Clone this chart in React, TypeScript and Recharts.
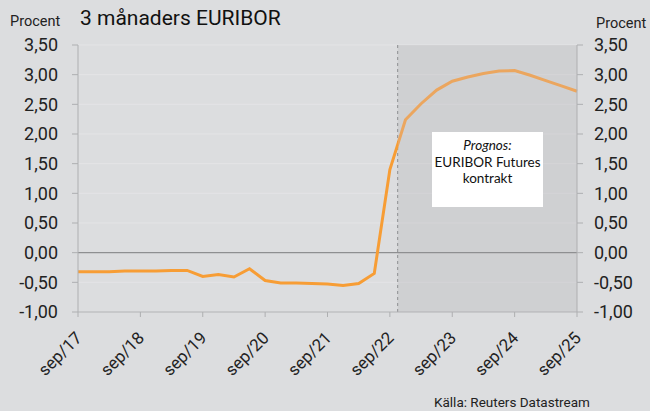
import { LineChart, Line, XAxis, YAxis, CartesianGrid, ReferenceLine, ReferenceArea } from "recharts";

// months since sep 2017, quarterly observations
const months = [0, 3, 6, 9, 12, 15, 18, 21, 24, 27, 30, 33, 36, 39, 42, 45, 48, 51, 54, 57, 60, 63, 66, 69, 72, 75, 78, 81, 84, 87, 90, 93, 96];
const euribor = [
  -0.32, -0.32, -0.32, -0.31, -0.31, -0.31, -0.3, -0.3, -0.4, -0.37, -0.41, -0.27, -0.47, -0.51, -0.51, -0.52,
  -0.53, -0.555, -0.52, -0.35, 1.4, 2.24, 2.51, 2.74, 2.89, 2.96, 3.02, 3.06, 3.07, 2.99, 2.9, 2.81, 2.72,
];
const xTicks = [0, 12, 24, 36, 48, 60, 72, 84, 96];
const xLabels = ["sep/17", "sep/18", "sep/19", "sep/20", "sep/21", "sep/22", "sep/23", "sep/24", "sep/25"];
const yTicks = [-1, -0.5, 0, 0.5, 1, 1.5, 2, 2.5, 3, 3.5];
const forecastStart = 61.5;
const forecastEnd = 96;

const data = months.map((m, i) => ({ m, v: euribor[i] }));

const FONT = "Roboto, 'DejaVu Sans', sans-serif";
const fmt = (v: number) => v.toFixed(2).replace(".", ",");
// where the shaded forecast begins, as a fraction of the line's x-span
const splitAt = `${(forecastStart / forecastEnd) * 100}%`;

function XTick({ x, y, payload }: any) {
  const idx = xTicks.indexOf(payload.value);
  const tx = x + 5;
  const ty = y + 20;
  return (
    <text x={tx} y={ty} textAnchor="end" transform={`rotate(-45 ${tx} ${ty})`} fontSize={17} fill="#222" fontFamily={FONT}>
      {xLabels[idx]}
    </text>
  );
}

export default function App() {
  return (
    <div style={{ position: "absolute", left: 0, top: 0, width: 650, height: 411, background: "#dcdddf", fontFamily: FONT }}>
      <LineChart width={650} height={411} data={data} margin={{ top: 45, right: 0, bottom: 0, left: 0 }}>
        <defs>
          <linearGradient id="lineFade" x1="0" y1="0" x2="1" y2="0">
            <stop offset={splitAt} stopColor="#f79d35" />
            <stop offset={splitAt} stopColor="#eba65f" />
          </linearGradient>
        </defs>
        <CartesianGrid yAxisId="left" vertical={false} stroke="#e4e4e6" />
        <XAxis
          dataKey="m"
          type="number"
          domain={[0, 96]}
          ticks={xTicks}
          height={99}
          tick={<XTick />}
          tickSize={5}
          stroke="#aeafb1"
          interval={0}
        />
        <YAxis
          yAxisId="left"
          domain={[-1, 3.5]}
          ticks={yTicks}
          width={78}
          tickFormatter={fmt}
          tickSize={6}
          tickMargin={14}
          stroke="#aeafb1"
          tick={{ fontSize: 18, fill: "#222", fontFamily: FONT }}
          interval={0}
        />
        <YAxis
          yAxisId="right"
          orientation="right"
          domain={[-1, 3.5]}
          ticks={yTicks}
          width={73}
          tickFormatter={fmt}
          tickSize={6}
          tickMargin={11}
          stroke="#aeafb1"
          tick={{ fontSize: 18, fill: "#222", fontFamily: FONT }}
          interval={0}
        />
        <ReferenceArea
          yAxisId="left"
          x1={forecastStart}
          x2={forecastEnd}
          y1={-1}
          y2={3.5}
          fill="#b3b4b6"
          fillOpacity={0.32}
          stroke="none"
        />
        <ReferenceLine yAxisId="left" y={0} stroke="#8e8f91" strokeWidth={1.2} />
        <ReferenceLine yAxisId="left" x={forecastStart} stroke="#8e8f91" strokeDasharray="3 3" />
        <Line yAxisId="right" dataKey="v" stroke="none" strokeWidth={0} dot={false} activeDot={false} isAnimationActive={false} />
        <Line yAxisId="left" dataKey="v" stroke="url(#lineFade)" strokeWidth={3} dot={false} isAnimationActive={false} />
      </LineChart>
      <div style={{ position: "absolute", left: 10, top: 13, fontSize: 14.5, color: "#222" }}>Procent</div>
      <div style={{ position: "absolute", left: 596, top: 15, fontSize: 14.5, color: "#222" }}>Procent</div>
      <div style={{ position: "absolute", left: 80, top: 6, fontSize: 21, color: "#111" }}>3 månaders EURIBOR</div>
      <div
        style={{
          position: "absolute",
          left: 432,
          top: 132,
          width: 111,
          height: 75,
          background: "#fff",
          textAlign: "center",
          fontFamily: "Lato, 'Open Sans', sans-serif",
          fontSize: 13.5,
          lineHeight: "16.5px",
          color: "#111",
          paddingTop: 5,
          boxSizing: "border-box",
        }}
      >
        <div style={{ fontStyle: "italic" }}>Prognos:</div>
        <div>EURIBOR Futures</div>
        <div>kontrakt</div>
      </div>
      <div style={{ position: "absolute", left: 434, top: 394, fontSize: 13.5, color: "#222" }}>Källa: Reuters Datastream</div>
    </div>
  );
}
